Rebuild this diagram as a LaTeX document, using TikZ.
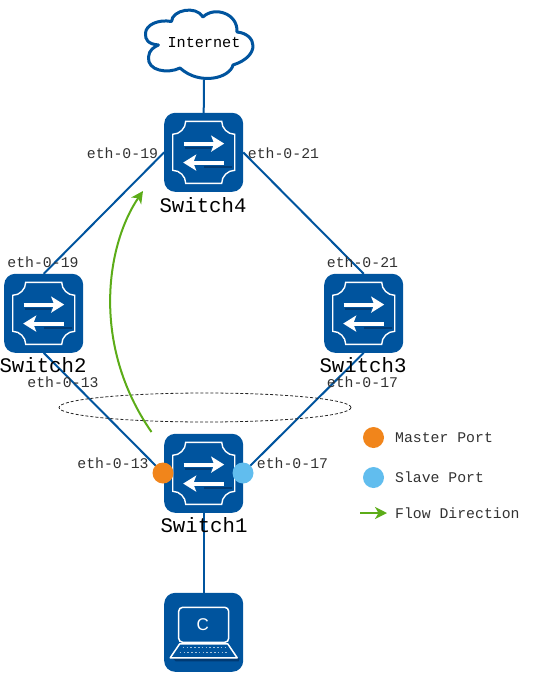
\documentclass[tikz,border=0pt]{standalone}
\usepackage{fontspec}
\usetikzlibrary{arrows.meta,shapes.geometric}
\setmainfont{Liberation Mono}
\setsansfont{Liberation Sans}
\definecolor{netblue}{RGB}{0,84,158}
\definecolor{darkshade}{RGB}{0,58,115}
\definecolor{flowgreen}{RGB}{92,172,24}
\definecolor{masterc}{RGB}{241,133,27}
\definecolor{slavec}{RGB}{97,189,238}
\definecolor{porttext}{RGB}{50,50,50}
\tikzset{
  devbox/.style={fill=netblue,rounded corners=11pt,minimum size=79pt,inner sep=0pt,outer sep=0pt},
  link/.style={draw=netblue,line width=2pt},
  portlabel/.style={inner sep=0pt,text=porttext,font=\fontsize{14.8}{16}\selectfont},
  swlabel/.style={inner sep=0pt,text=black,font=\fontsize{20.7}{22}\selectfont},
  legendtext/.style={inner sep=0pt,anchor=west,text=porttext,font=\fontsize{14.8}{16}\selectfont},
  portdot/.style={circle,minimum size=21pt,inner sep=0pt,outer sep=0pt},
  flow/.style={draw=flowgreen,line width=2pt,-{Stealth[length=12pt,width=12pt,inset=3.5pt]}},
  whitearrow/.style={draw=white,line width=4pt,-{Stealth[length=13pt,width=16pt,inset=3pt]}},
  pics/swicon/.style={code={
    \fill[darkshade] (-19,-5) rectangle (7,-3);
    \fill[darkshade] (0,13.5) rectangle (28,15.5);
    \draw[white,line width=1.4pt] (-18,-31) -- (18,-31)
      .. controls (18,-24) and (24,-18) .. (31,-18) -- (31,18)
      .. controls (24,18) and (18,24) .. (18,31) -- (-18,31)
      .. controls (-18,24) and (-24,18) .. (-31,18) -- (-31,-18)
      .. controls (-24,-18) and (-18,-24) .. (-18,-31) -- cycle;
    \draw[whitearrow] (-20,-8.7) -- (20.5,-8.7);
    \draw[whitearrow] (20,10.3) -- (-20.5,10.3);
  }},
  pics/pcicon/.style={code={
    \fill[darkshade] (-31,26) -- (36,26) -- (35,29) -- (-28,29) -- cycle;
    \draw[white,line width=1.5pt,rounded corners=4pt] (-25,10) -- (-25,-25) -- (25,-25) -- (25,10) -- cycle;
    \draw[white,line width=1.5pt,line join=round] (-24,11.5) -- (24,11.5) -- (33.5,25.5) -- (-33.5,25.5) -- cycle;
    \draw[white!65!netblue,line width=1.2pt,dash pattern=on 1.6pt off 2.2pt] (-21,15) -- (21,15);
    \draw[white!65!netblue,line width=1.2pt,dash pattern=on 1.6pt off 2.2pt] (-24,20) -- (24,20);
  }}
}
\begin{document}
\begin{tikzpicture}[x=1pt,y=-1pt]
\useasboundingbox (0,0) rectangle (554,675);
% devices
\node[devbox] (sw4) at (203.7,152.3) {};
\node[devbox] (sw2) at (43.7,313.3) {};
\node[devbox] (sw3) at (363.7,313.3) {};
\node[devbox] (sw1) at (203.7,473.3) {};
\node[devbox] (pc) at (203.7,632.3) {};
\node[inner sep=0pt,minimum width=73pt,minimum height=1pt] (inet) at (204,43) {};
\coordinate (cloudbottom) at (204,80);
% connectors
\draw[link] (cloudbottom) -- (sw4.north);
\draw[link] (sw4.west) -- (sw2.north);
\draw[link] (sw4.east) -- (sw3.north);
\node[portdot] (master) at (163,473) {};
\node[portdot] (slave) at (243,473) {};
\draw[link] (sw2.south) -- (master.center);
\draw[link] (sw3.south) -- (slave.center);
\draw[link] (sw1.south) -- (pc.north);
% cloud
\draw[netblue,line width=3pt,line join=round,fill=white]
  (145.5,33) .. controls (146,25) and (158,19) .. (171.5,21.5)
  .. controls (172,10) and (196,5) .. (203,17)
  .. controls (214,6) and (238,13) .. (237,32)
  .. controls (257,34) and (261,56) .. (233,65)
  .. controls (230,78) and (200,86) .. (180,68)
  .. controls (168,74) and (147,71) .. (148.5,57)
  .. controls (149,50) and (154,47) .. (158.5,45)
  .. controls (148,44) and (145,40) .. (145.5,33) -- cycle;
% icons
\pic at (sw4) {swicon};
\pic at (sw2) {swicon};
\pic at (sw3) {swicon};
\pic at (sw1) {swicon};
\pic at (pc) {pcicon};
\node[inner sep=0pt,text=white,font=\sffamily\fontsize{17}{18}\selectfont] (pcletter) at (202.7,624.5) {C};
% ports
\node[portdot,fill=masterc] at (master) {};
\node[portdot,fill=slavec] at (slave) {};
% ellipse
\node[draw=black!85,densely dashed,line width=0.8pt,ellipse,minimum width=292pt,minimum height=29pt,inner sep=0pt] (ring) at (205,407.5) {};
% flow
\coordinate (flowstart) at (151.5,432);
\coordinate (flowend) at (143,191);
\draw[flow] (flowstart) .. controls (91,345) and (106,245) .. (flowend);
% texts
\node[inner sep=0pt,font=\fontsize{15.2}{16}\selectfont] (inettext) at (inet) {Internet};
\node[swlabel] (l4) at (203,205) {Switch4};
\node[swlabel] (l2) at (43,365) {Switch2};
\node[swlabel] (l3) at (363,365) {Switch3};
\node[swlabel] (l1) at (204,525) {Switch1};
\node[portlabel] (p1) at (122.5,153) {eth-0-19};
\node[portlabel] (p2) at (283.5,153) {eth-0-21};
\node[portlabel] (p3) at (43,262) {eth-0-19};
\node[portlabel] (p4) at (362.5,262) {eth-0-21};
\node[portlabel] (p5) at (63,382) {eth-0-13};
\node[portlabel] (p6) at (362.5,382) {eth-0-17};
\node[portlabel] (p7) at (113,463) {eth-0-13};
\node[portlabel] (p8) at (292.5,463) {eth-0-17};
% legend
\node[portdot,fill=masterc] (lm) at (373.5,437.5) {};
\node[portdot,fill=slavec] (ls) at (373.5,477.5) {};
\coordinate (la) at (360,513);
\coordinate (lb) at (387,513);
\draw[flow] (la) -- (lb);
\node[legendtext] (t1) at (395,437.5) {Master Port};
\node[legendtext] (t2) at (395,477.5) {Slave Port};
\node[legendtext] (t3) at (395,513) {Flow Direction};
\end{tikzpicture}
\end{document}
